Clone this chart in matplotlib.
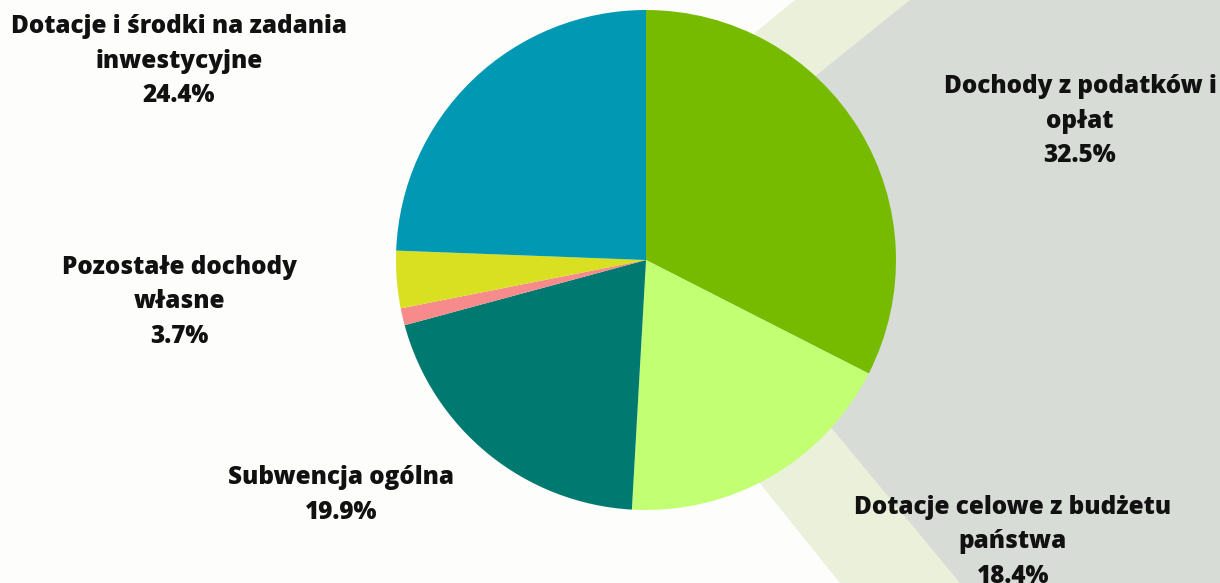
import matplotlib
matplotlib.use('Agg')
import matplotlib.pyplot as plt
from matplotlib.patches import Polygon

# dane
kategorie = ['Dochody z podatków i\nopłat', 'Dotacje celowe z budżetu\npaństwa', 'Subwencja ogólna',
             'Inne', 'Pozostałe dochody\nwłasne', 'Dotacje i środki na zadania\ninwestycyjne']
udzialy = [32.5, 18.4, 19.9, 1.1, 3.7, 24.4]
kolory = ['#77bb00', '#c2ff73', '#007a70', '#f78a8a', '#d9e021', '#0098b3']
pokaz_etykiete = [True, True, True, False, True, True]
# położenie środków etykiet (piksele obrazu)
pozycje_etykiet = [(1080, 121), (1013, 542), (341, 495), None, (179, 302), (179, 61)]

W, H = 1220, 583
fig = plt.figure(figsize=(W / 100, H / 100), dpi=100)
fig.patch.set_facecolor('#fdfdfc')

# tło z ukośnymi pasami
bg = fig.add_axes([0, 0, 1, 1])
bg.set_xlim(0, W)
bg.set_ylim(H, 0)
bg.set_axis_off()
pas = Polygon([(795, 0), (W, 0), (W, H), (840, H), (540, 209), (795, 0)], closed=True,
              facecolor='#eaf0da', edgecolor='none')
szary = Polygon([(910, 0), (W, 0), (W, H), (960, H), (650, 209)], closed=True,
                facecolor='#d8dcd6', edgecolor='none')
bg.add_patch(pas)
bg.add_patch(szary)

# wykres kołowy
cx, cy, r = 646, 260, 250
ax = fig.add_axes([(cx - r) / W, (H - cy - r) / H, 2 * r / W, 2 * r / H])
ax.pie(udzialy, colors=kolory, startangle=90, counterclock=False,
       wedgeprops=dict(linewidth=0))
ax.set_xlim(-1, 1)
ax.set_ylim(-1, 1)
ax.set_aspect('equal')

for nazwa, wart, pokaz, poz in zip(kategorie, udzialy, pokaz_etykiete, pozycje_etykiet):
    if not pokaz:
        continue
    bg.text(poz[0], poz[1], f'{nazwa}\n{wart}%', ha='center', va='center',
            fontsize=17.5, fontweight='heavy', family='Open Sans', color='#111111',
            linespacing=1.5)

fig.savefig('out.png', dpi=100, facecolor=fig.get_facecolor())
